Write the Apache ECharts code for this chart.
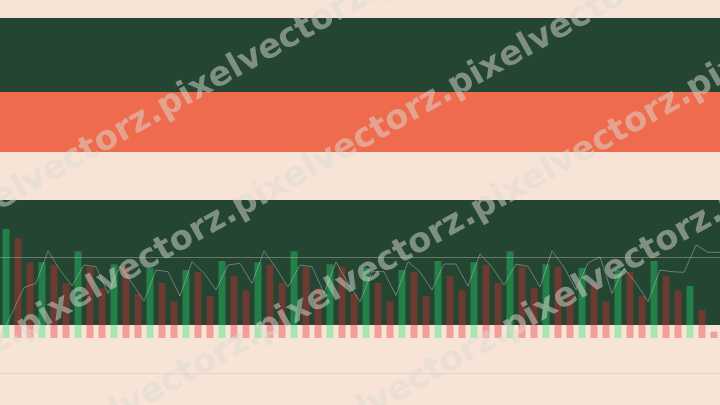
<!DOCTYPE html>
<html>
<head>
<meta charset="utf-8">
<script src="https://cdn.jsdelivr.net/npm/echarts@6/dist/echarts.min.js"></script>
<style>html,body{margin:0;padding:0;background:#f8e4d7;}#c{width:720px;height:405px;}</style>
</head>
<body>
<div id="c"></div>
<script>
// ---- data ----
var barCategories = [];
for (var i = 0; i < 60; i++) barCategories.push(String(i + 1));
var barValues = [109, 99.7, 75.7, 75.7, 73.3, 55, 86.7, 71.3, 49.7, 73.7,
  71.3, 44, 70.3, 55, 36.7, 68, 66, 42, 77, 62,
  47.7, 75.7, 73.3, 55, 86.7, 71.3, 49.7, 73.7, 71.3, 44,
  70.3, 55, 36.7, 68, 66, 42, 77, 62, 47.7, 75.7,
  73.3, 55, 86.7, 71.3, 49.7, 73.7, 71.3, 44, 70.3, 55,
  36.7, 68, 66, 42, 77, 62, 47.7, 52, 28, 6.3];
var barDirection = ['up','down','down','up','down','down','up','down','down','up',
  'down','down','up','down','down','up','down','down','up','down',
  'down','up','down','down','up','down','down','up','down','down',
  'up','down','down','up','down','down','up','down','down','up',
  'down','down','up','down','down','up','down','down','up','down',
  'down','up','down','down','up','down','down','up','down','down'];
var lineCategories = [];
for (var j = 0; j <= 60; j++) lineCategories.push(String(j));
var lineValues = [0, 25, 50.5, 54.7, 87, 68, 52.3, 73, 71.3, 44.7,
  72, 55, 37, 68, 66.3, 42, 76.3, 65, 48, 73,
  74.7, 54.7, 87, 70, 51, 73, 71.3, 45, 76, 55,
  36, 66.3, 66.3, 42.5, 76.3, 66, 48, 74, 74, 52,
  84, 71, 53, 74, 71.6, 51, 87, 71, 48, 75,
  81, 44.7, 70, 55, 36.3, 68, 66.3, 65.7, 93, 85.7, 85.7];
var referenceLevel = 80.7;
var watermarkText = 'pixelvectorz.';

// ---- chart ----
var chart = echarts.init(document.getElementById('c'), null, {renderer: 'canvas'});
var upColor = 'rgba(34,230,110,0.37)';
var downColor = 'rgba(230,40,50,0.37)';

var bands = [
  {y: 18, h: 74, c: '#234532'},
  {y: 92, h: 60, c: '#ee6b4d'},
  {y: 200, h: 125, c: '#234532'}
];
var graphics = [];
bands.forEach(function (b) {
  graphics.push({type: 'rect', z: -10, silent: true, shape: {x: 0, y: b.y, width: 720, height: b.h}, style: {fill: b.c}});
});
graphics.push({type: 'line', z: -9, silent: true, shape: {x1: 0, y1: 373.5, x2: 720, y2: 373.5}, style: {stroke: 'rgba(200,180,165,0.35)', lineWidth: 1}});

// watermark lines: intercept c (y at x=0), x position of a '.'
var slope = 0.56;
var ang = Math.atan(slope);
var fontSize = 34;
var period = 7.335 * fontSize * Math.cos(ang);
var rep = '';
for (var r = 0; r < 6; r++) rep += watermarkText;
[{c: 200, dot: 160}, {c: 342, dot: 235}, {c: 478, dot: 258}, {c: 614, dot: 505}].forEach(function (w) {
  var xs = w.dot + 6 - 3 * period;
  graphics.push({
    type: 'text', z: 100, silent: true,
    x: xs, y: w.c - slope * xs, rotation: ang,
    style: {
      text: rep, font: 'bold ' + fontSize + 'px "DejaVu Sans"',
      fill: 'rgba(220,218,208,0.5)',
      textShadowColor: 'rgba(30,30,30,0.4)', textShadowOffsetX: 1.5, textShadowOffsetY: 1.5, textShadowBlur: 0,
      align: 'left', verticalAlign: 'middle'
    }
  });
});

chart.setOption({
  backgroundColor: '#f8e4d7',
  animation: false,
  graphic: graphics,
  grid: {left: 0, right: 0, top: 38, bottom: 67, containLabel: false},
  xAxis: [
    {type: 'category', data: barCategories, boundaryGap: true, show: false},
    {type: 'category', data: lineCategories, boundaryGap: false, show: false}
  ],
  yAxis: {type: 'value', min: 0, max: 300, show: false, splitLine: {show: false}},
  series: [
    {
      type: 'bar', xAxisIndex: 0, barWidth: 7,
      data: barValues.map(function (v, i) {
        return {value: v, itemStyle: {color: barDirection[i] === 'up' ? upColor : downColor}};
      })
    },
    {
      type: 'line', xAxisIndex: 1, data: lineValues, symbol: 'none',
      lineStyle: {color: 'rgba(200,200,190,0.45)', width: 1},
      markLine: {
        silent: true, symbol: 'none', label: {show: false},
        lineStyle: {color: 'rgba(200,200,180,0.4)', width: 1, type: 'solid'},
        data: [{yAxis: referenceLevel}]
      }
    }
  ]
});
</script>
</body>
</html>
